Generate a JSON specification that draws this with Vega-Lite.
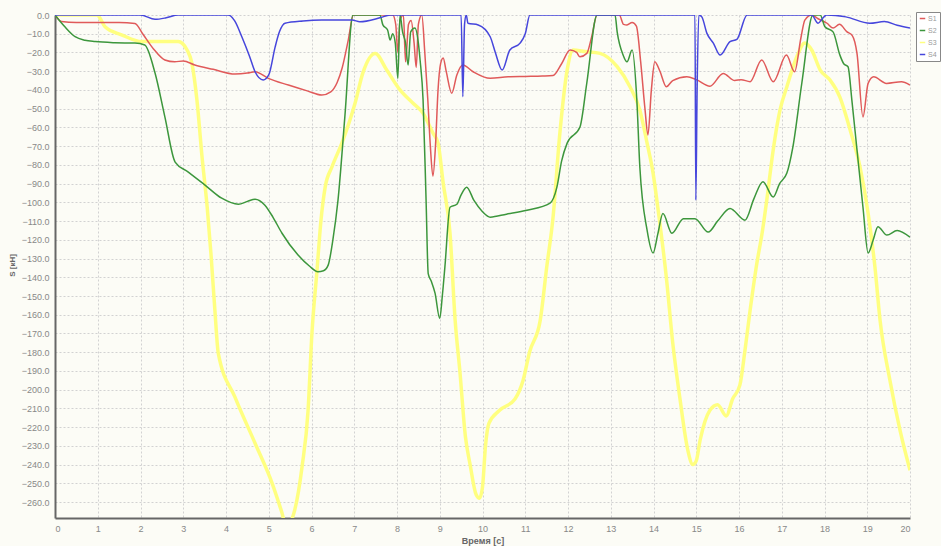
{
  "$schema": "https://vega.github.io/schema/vega-lite/v6.json",
  "width": 855,
  "height": 503,
  "autosize": "none",
  "padding": {"left": 55, "top": 15, "right": 31, "bottom": 28},
  "background": "#fcfcf6",
  "config": {
    "view": {"stroke": null},
    "font": "Liberation Sans"
  },
  "datasets": {
    "S3": [[0,0],[1.0,0],[1.05,-1.6],[1.17,-6.3],[1.57,-10.7],[2.03,-14.2],[2.34,-14.2],[2.88,-14.2],[3.09,-18.7],[3.2,-25.6],[3.32,-45.4],[3.44,-75.9],[3.56,-102.6],[3.65,-128],[3.74,-157.6],[3.82,-180.6],[4.21,-204],[4.68,-228.6],[5.08,-250],[5.3,-265],[5.4,-272],[5.52,-270],[5.61,-264],[5.78,-241],[5.92,-211],[6.01,-170],[6.13,-136],[6.22,-110],[6.32,-91.9],[6.48,-81],[6.71,-68.4],[7.02,-47],[7.2,-31],[7.49,-20.5],[7.76,-29.4],[8.07,-40],[8.37,-47],[8.61,-52.4],[8.84,-63],[8.96,-68.4],[9.08,-89.7],[9.24,-116.5],[9.36,-163],[9.47,-190],[9.6,-225],[9.71,-240],[9.85,-256],[9.93,-258],[10.0,-252],[10.07,-230],[10.15,-218],[10.4,-211],[10.76,-205],[10.95,-195],[11.1,-180],[11.35,-163],[11.5,-135],[11.65,-108],[11.81,-63],[11.98,-29.4],[12.12,-18.7],[12.4,-19.5],[12.75,-20.5],[13.15,-27.6],[13.45,-38.3],[13.68,-50.7],[13.85,-68.4],[13.99,-84.4],[14.1,-102.6],[14.3,-140],[14.45,-175],[14.62,-205],[14.8,-232],[14.92,-240],[15.0,-238],[15.09,-227],[15.32,-211],[15.5,-208],[15.7,-214],[15.85,-205],[16.02,-197.6],[16.14,-179],[16.26,-157.6],[16.4,-135],[16.55,-115],[16.65,-98.8],[16.8,-72],[16.96,-50.7],[17.12,-38.3],[17.35,-22.4],[17.54,-15],[17.7,-18.7],[17.9,-29.4],[18.13,-34.7],[18.36,-43.8],[18.6,-61.4],[18.83,-81],[19.02,-105.8],[19.18,-134.6],[19.3,-163],[19.53,-195],[19.77,-222],[20,-243]],
    "S1": [[0,0],[0.15,-3.5],[0.5,-4],[1.0,-4],[1.5,-4],[1.87,-4.5],[2.05,-10],[2.3,-18],[2.57,-24],[2.8,-25],[3.0,-24.5],[3.27,-26.7],[3.7,-29],[4.21,-31.5],[4.5,-31],[4.68,-30.3],[4.99,-33.8],[5.46,-37.4],[5.9,-40.5],[6.24,-42.7],[6.45,-41],[6.6,-36],[6.72,-28],[6.86,-13.4],[6.98,0],[7.9,0],[7.97,-5],[8.02,-20],[8.07,-3],[8.15,0],[8.2,-25],[8.27,-5],[8.33,-3],[8.4,-15],[8.45,-28],[8.5,-5],[8.58,0],[8.65,-20],[8.72,-45],[8.78,-70],[8.84,-86],[8.9,-70],[8.96,-40],[9.02,-26],[9.08,-23],[9.15,-30],[9.28,-41.8],[9.4,-32],[9.54,-26.7],[9.78,-30.3],[10.18,-33.8],[10.6,-33],[11.0,-32.8],[11.4,-32.6],[11.65,-32.3],[11.85,-26],[12.05,-18.7],[12.2,-20],[12.28,-22.3],[12.44,-20.5],[12.55,-12],[12.68,0],[13.2,0],[13.3,-5],[13.38,-5.3],[13.5,-4],[13.6,-6],[13.7,-25],[13.8,-50],[13.87,-64],[13.95,-40],[14.03,-24.9],[14.15,-30],[14.3,-38.3],[14.45,-35],[14.78,-33],[15.0,-34.5],[15.32,-38],[15.63,-31.2],[15.9,-35],[16.05,-34.5],[16.26,-35.6],[16.53,-24],[16.8,-35.6],[17.11,-21.4],[17.3,-30.3],[17.45,-12],[17.54,-2.7],[17.7,0],[17.85,-2],[18.06,-4.4],[18.2,-7],[18.35,-5],[18.52,-8.9],[18.65,-11],[18.76,-20.5],[18.9,-54.4],[19.02,-36.5],[19.15,-33],[19.45,-36.5],[19.8,-35.6],[20,-37.4]],
    "S2": [[0,0],[0.23,-6.3],[0.47,-11.6],[0.7,-13.5],[0.94,-14.2],[1.4,-14.8],[1.87,-15],[2.1,-16],[2.34,-31],[2.57,-54.4],[2.81,-78.5],[3.11,-83.7],[3.51,-90.8],[3.9,-97.8],[4.29,-101],[4.5,-99.5],[4.68,-98.3],[4.91,-101.5],[5.1,-108],[5.31,-116.5],[5.68,-128],[5.95,-134],[6.15,-137],[6.28,-136.5],[6.39,-133.5],[6.5,-120],[6.62,-98.8],[6.78,-54.4],[6.97,0],[7.6,0],[7.67,-5.3],[7.78,-8],[7.84,-13.4],[7.9,-10],[7.96,-15],[8.02,-33.8],[8.07,0],[8.13,-9],[8.2,-15],[8.26,-26.7],[8.32,-9],[8.42,-7],[8.5,-15],[8.54,-24],[8.61,-45.4],[8.68,-98.8],[8.73,-138],[8.8,-142],[8.89,-148.5],[9.0,-162],[9.06,-150],[9.12,-134.6],[9.24,-102.6],[9.4,-101],[9.5,-96],[9.63,-91.9],[9.8,-99],[10.0,-105],[10.18,-107.9],[10.56,-106.3],[11.04,-104.2],[11.58,-100.4],[11.74,-91.9],[11.85,-78],[11.98,-68.4],[12.28,-59.8],[12.44,-36.3],[12.68,0],[13.1,0],[13.15,-9],[13.29,-21.4],[13.38,-25],[13.5,-18.7],[13.61,-45.4],[13.68,-81],[13.85,-114.8],[13.99,-127],[14.1,-117],[14.22,-106],[14.43,-116.5],[14.7,-108.7],[14.97,-108.7],[15.28,-115.9],[15.5,-110],[15.79,-103.3],[16.14,-109.5],[16.35,-98],[16.56,-89],[16.8,-97.2],[16.95,-90],[17.12,-84.4],[17.26,-70.5],[17.47,-36.3],[17.73,0],[17.9,0],[18.01,-6.3],[18.2,-9],[18.36,-21.4],[18.45,-26],[18.55,-27.6],[18.64,-45.4],[18.76,-72],[18.9,-102.6],[19.02,-127],[19.14,-120],[19.25,-113],[19.46,-117.5],[19.7,-115],[20,-118.6]],
    "S4": [[0,0],[2.0,0],[2.34,-2.3],[2.6,-1.5],[2.88,0],[4.05,0],[4.2,-3],[4.37,-11.6],[4.55,-22],[4.68,-30.3],[4.87,-34.7],[5.0,-32],[5.15,-17],[5.25,-9],[5.38,-4.4],[5.8,-3.2],[6.24,-2.7],[6.95,-2.7],[7.13,-3.6],[7.6,-1.5],[7.84,0],[9.5,0],[9.54,-43.6],[9.58,-5],[9.62,0],[9.66,-4.4],[9.9,-5.3],[10.18,-11.6],[10.3,-20],[10.46,-29.4],[10.64,-18.7],[10.88,-15],[11.0,-10],[11.11,0],[14.97,0],[14.99,-98.8],[15.02,-40],[15.06,0],[15.13,-1],[15.25,-9.8],[15.4,-15],[15.56,-21.4],[15.79,-14.2],[15.95,-13],[16.19,0],[17.7,0],[17.85,-4.4],[17.95,-2],[18.05,0],[18.5,-1],[19.06,-4.4],[19.4,-3.5],[19.7,-5.5],[20,-7]]
  },
  "encoding": {
    "x": {"field": "t", "type": "quantitative", "scale": {"domain": [0, 20], "nice": false}, "axis": {"values": [0,1,2,3,4,5,6,7,8,9,10,11,12,13,14,15,16,17,18,19,20], "title": "Время [с]", "format": "d", "grid": true, "gridColor": "#d2d2d2", "gridDash": [2, 2], "ticks": false, "domainColor": "#666", "domainWidth": 2, "labelColor": "#888", "labelFontSize": 9, "labelPadding": 6, "labelOverlap": false, "titleFontSize": 9, "titleFontWeight": "bold", "titleColor": "#666", "titleY": 18, "titleBaseline": "top"}},
    "y": {"field": "v", "type": "quantitative", "scale": {"domain": [-268.5, 0], "nice": false, "zero": false}, "axis": {"values": [0,-10,-20,-30,-40,-50,-60,-70,-80,-90,-100,-110,-120,-130,-140,-150,-160,-170,-180,-190,-200,-210,-220,-230,-240,-250,-260], "title": "S [кН]", "format": ".1f", "grid": true, "gridColor": "#d2d2d2", "gridDash": [2, 2], "ticks": false, "domainColor": "#666", "domainWidth": 2, "labelColor": "#888", "labelFontSize": 9, "labelPadding": 6, "labelOverlap": false, "labelFlush": false, "titleFontSize": 8, "titleFontWeight": "bold", "titleColor": "#666", "titleX": -39, "titleY": 250}},
    "color": {"field": "s", "type": "nominal", "scale": {"domain": ["S1", "S2", "S3", "S4"], "range": ["#e05a5a", "#3c963c", "#ffff80", "#4646dc"]}, "legend": {"orient": "none", "legendX": 861, "legendY": -3, "title": null, "padding": 3, "fillColor": "#ffffff", "strokeColor": "#888", "symbolType": "stroke", "symbolSize": 30, "symbolStrokeWidth": 1.5, "labelFontSize": 7, "labelColor": "#999", "rowPadding": 4, "labelOffset": 2}}
  },
  "layer": [
    {
      "data": {"name": "S3"},
      "transform": [{"calculate": "'S3'", "as": "s"}, {"calculate": "datum[0]", "as": "t"}, {"calculate": "datum[1]", "as": "v"}],
      "mark": {"type": "line", "clip": true, "strokeWidth": 3.5, "interpolate": "monotone"}
    },
    {
      "data": {"name": "S1"},
      "transform": [{"calculate": "'S1'", "as": "s"}, {"calculate": "datum[0]", "as": "t"}, {"calculate": "datum[1]", "as": "v"}],
      "mark": {"type": "line", "clip": true, "strokeWidth": 1.5, "interpolate": "monotone"}
    },
    {
      "data": {"name": "S2"},
      "transform": [{"calculate": "'S2'", "as": "s"}, {"calculate": "datum[0]", "as": "t"}, {"calculate": "datum[1]", "as": "v"}],
      "mark": {"type": "line", "clip": true, "strokeWidth": 1.5, "interpolate": "monotone"}
    },
    {
      "data": {"name": "S4"},
      "transform": [{"calculate": "'S4'", "as": "s"}, {"calculate": "datum[0]", "as": "t"}, {"calculate": "datum[1]", "as": "v"}],
      "mark": {"type": "line", "clip": true, "strokeWidth": 1.5, "interpolate": "monotone"}
    }
  ]
}
